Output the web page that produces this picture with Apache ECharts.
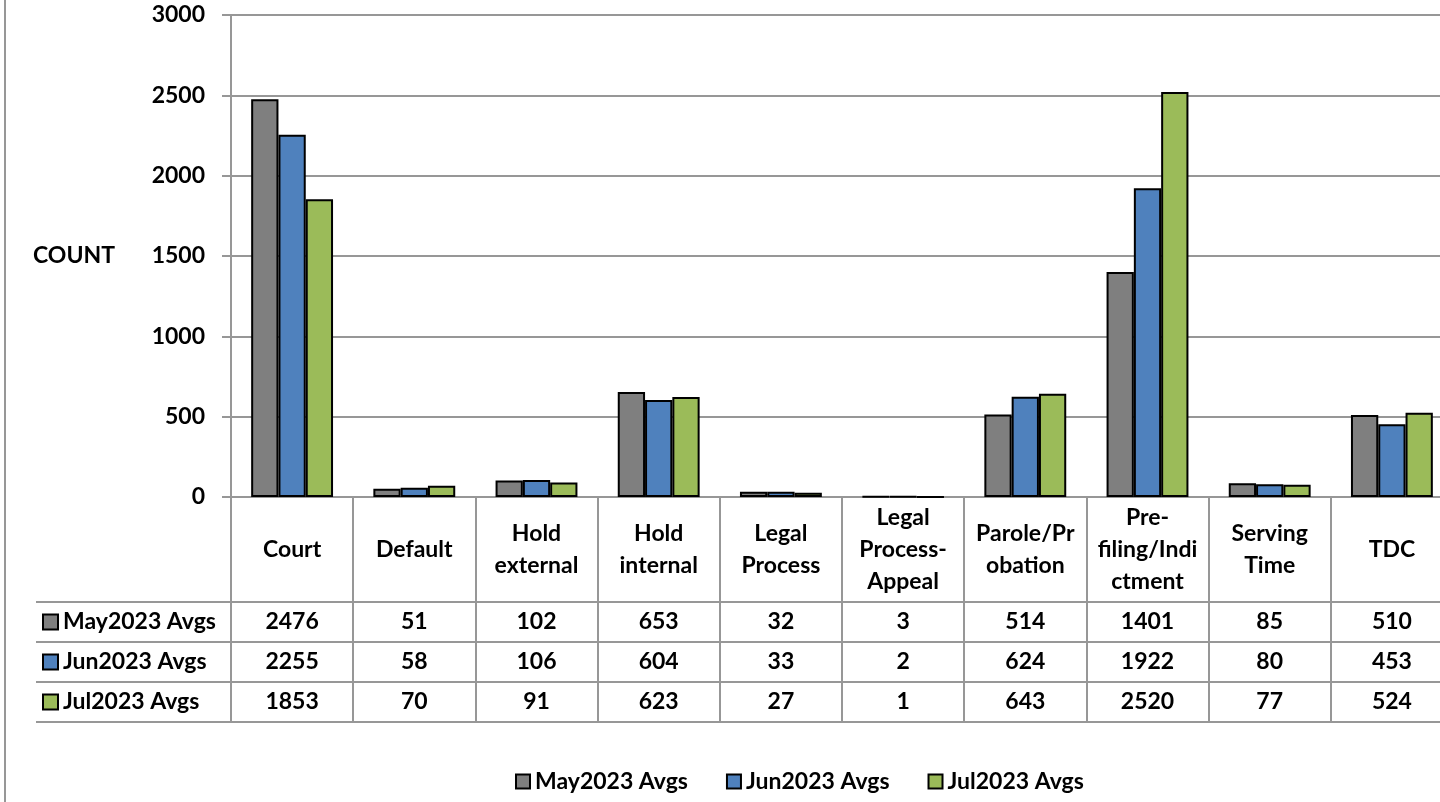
<!DOCTYPE html>
<html>
<head>
<meta charset="utf-8">
<script src="https://cdn.jsdelivr.net/npm/echarts@6/dist/echarts.min.js"></script>
<style>
  html, body { margin: 0; padding: 0; background: #fff; }
  #chart { width: 1440px; height: 802px; }
</style>
</head>
<body>
<div id="chart"></div>
<script>
  // data
  const categories = ['Court', 'Default', 'Hold external', 'Hold internal', 'Legal Process',
    'Legal Process-Appeal', 'Parole/Probation', 'Pre-filing/Indictment', 'Serving Time', 'TDC'];
  const headerLabels = ['Court', 'Default', 'Hold\nexternal', 'Hold\ninternal', 'Legal\nProcess',
    'Legal\nProcess-\nAppeal', 'Parole/Pr\nobation', 'Pre-\nfiling/Indi\nctment', 'Serving\nTime', 'TDC'];
  const seriesNames = ['May2023 Avgs', 'Jun2023 Avgs', 'Jul2023 Avgs'];
  const may2023 = [2476, 51, 102, 653, 32, 3, 514, 1401, 85, 510];
  const jun2023 = [2255, 58, 106, 604, 33, 2, 624, 1922, 80, 453];
  const jul2023 = [1853, 70, 91, 623, 27, 1, 643, 2520, 77, 524];
  const yMin = 0, yMax = 3000, yStep = 500;

  const colors = ['#7f7f7f', '#4f81bd', '#9bbb59'];
  const lineGray = '#979797';
  const font = 'Lato';
  const values = [may2023, jun2023, jul2023];

  // table cells: [category index, row index, value]
  const tableCells = [];
  values.forEach((arr, r) => arr.forEach((v, c) => tableCells.push([c, r, v])));

  const rich = {};
  colors.forEach((c, i) => {
    rich['b' + i] = { width: 13, height: 13, backgroundColor: c, borderColor: '#000', borderWidth: 2 };
  });
  rich.t = { fontSize: 23, fontWeight: 'bold', fontFamily: font, color: '#000', padding: [0, 0, 0, 6] };

  const myChart = echarts.init(document.getElementById('chart'));
  myChart.setOption({
    animation: false,
    textStyle: { fontFamily: font },
    grid: [
      { left: 231, right: -13, top: 15, height: 482, outerBoundsMode: 'none' },
      { left: 231, right: -13, top: 602, height: 120, outerBoundsMode: 'none' }
    ],
    legend: {
      data: seriesNames,
      left: 510,
      top: 765,
      icon: 'rect',
      itemWidth: 14,
      itemHeight: 14,
      itemGap: 38,
      itemStyle: { borderColor: '#000', borderWidth: 2 },
      textStyle: { fontSize: 23, fontWeight: 'bold', fontFamily: font, color: '#000' }
    },
    xAxis: [
      {
        gridIndex: 0,
        type: 'category',
        data: categories,
        axisLine: { show: true, lineStyle: { color: lineGray, width: 2 } },
        axisTick: { show: true, length: 105, alignWithLabel: false, interval: 0, lineStyle: { color: lineGray, width: 2 } },
        axisLabel: {
          interval: 0,
          margin: 53,
          verticalAlign: 'middle',
          lineHeight: 32,
          fontSize: 23,
          fontWeight: 'bold',
          fontFamily: font,
          color: '#000',
          formatter: (v, i) => headerLabels[i]
        }
      },
      {
        gridIndex: 1,
        type: 'category',
        data: categories,
        position: 'top',
        axisLine: { show: true, lineStyle: { color: lineGray, width: 2 } },
        axisTick: { show: false },
        axisLabel: { show: false },
        splitLine: { show: true, interval: 0, lineStyle: { color: lineGray, width: 2 } }
      },
      {
        gridIndex: 1,
        type: 'category',
        data: categories,
        position: 'bottom',
        axisLine: { show: true, lineStyle: { color: lineGray, width: 2 } },
        axisTick: { show: false },
        axisLabel: { show: false }
      }
    ],
    yAxis: [
      {
        gridIndex: 0,
        type: 'value',
        min: yMin,
        max: yMax,
        interval: yStep,
        name: 'COUNT',
        nameLocation: 'middle',
        nameRotate: 0,
        nameGap: 116,
        nameTextStyle: { fontSize: 23, fontWeight: 'bold', fontFamily: font, color: '#000' },
        axisLine: { show: true, lineStyle: { color: lineGray, width: 2 } },
        axisTick: { show: true, length: 9, lineStyle: { color: lineGray, width: 2 } },
        axisLabel: {
          margin: 26, fontSize: 23, fontWeight: 'bold', fontFamily: font, color: '#000',
          formatter: v => String(v)
        },
        splitLine: { show: true, lineStyle: { color: lineGray, width: 2 } }
      },
      {
        gridIndex: 1,
        type: 'category',
        data: seriesNames,
        inverse: true,
        axisLine: { show: true, lineStyle: { color: lineGray, width: 2 } },
        axisTick: { show: true, length: 195, interval: 0, lineStyle: { color: lineGray, width: 2 } },
        axisLabel: {
          margin: 187,
          align: 'left',
          formatter: (v, i) => '{b' + i + '|}{t|' + v + '}',
          rich: rich
        },
        splitLine: { show: true, interval: 0, lineStyle: { color: lineGray, width: 2 } }
      },
      {
        gridIndex: 1,
        type: 'category',
        data: seriesNames,
        inverse: true,
        offset: 195,
        axisLine: { show: true, lineStyle: { color: lineGray, width: 2 } },
        axisTick: { show: false },
        axisLabel: { show: false }
      }
    ],
    graphic: [
      { type: 'line', shape: { x1: 5, y1: 0, x2: 5, y2: 802 }, style: { stroke: lineGray, lineWidth: 2 } }
    ],
    series: seriesNames.map((name, i) => ({
      name: name,
      type: 'bar',
      xAxisIndex: 0,
      yAxisIndex: 0,
      data: values[i],
      barGap: '0%',
      barCategoryGap: '33%',
      itemStyle: { color: colors[i], borderColor: '#000', borderWidth: 2 }
    })).concat([{
      name: 'table',
      type: 'custom',
      xAxisIndex: 1,
      yAxisIndex: 1,
      data: tableCells,
      encode: { x: 0, y: 1 },
      renderItem: (params, api) => {
        const p = api.coord([api.value(0), api.value(1)]);
        return {
          type: 'text',
          style: {
            text: String(api.value(2)),
            x: p[0],
            y: p[1],
            align: 'center',
            verticalAlign: 'middle',
            fontSize: 23,
            fontWeight: 'bold',
            fontFamily: font,
            fill: '#000'
          }
        };
      }
    }])
  });
</script>
</body>
</html>
